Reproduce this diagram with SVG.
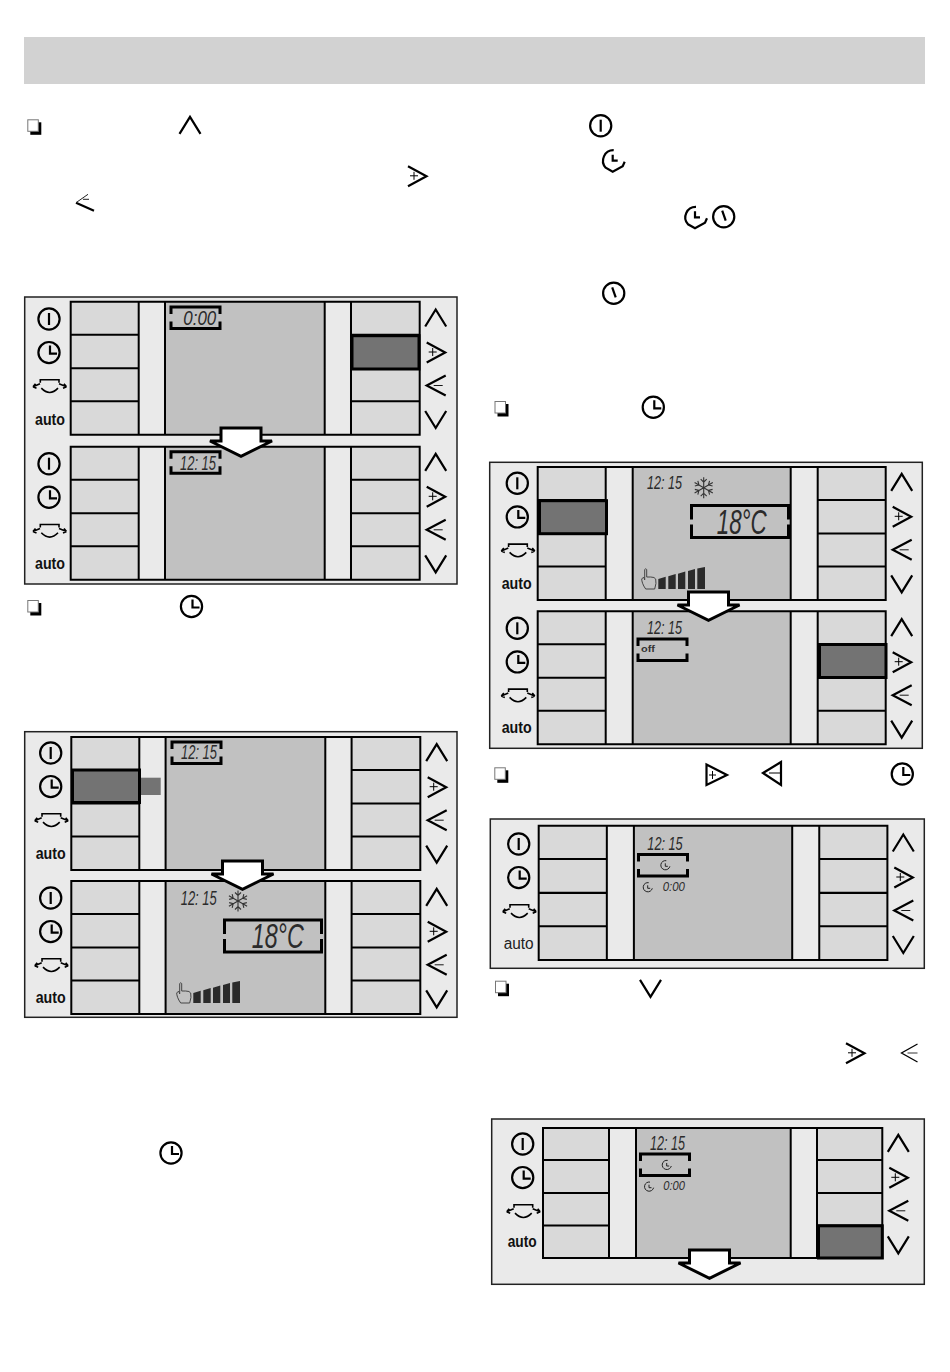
<svg xmlns="http://www.w3.org/2000/svg" width="950" height="1372" viewBox="0 0 950 1372">
<style>
.frame{fill:#eaeaea;stroke:#222;stroke-width:1.5}
.btn{fill:#d9d9d9}.lcd{fill:#c1c1c1}.gap{fill:#eaeaea}
.ln{fill:none;stroke:#000;stroke-width:2}
.hl{fill:#737373;stroke:#000;stroke-width:3}
.ic{fill:none;stroke:#000;stroke-width:2.2;stroke-linejoin:miter}
.thin{fill:none;stroke:#222;stroke-width:1}
.br{fill:none;stroke:#000;stroke-width:3}
.auto{font-family:"Liberation Sans",Arial,sans-serif;font-weight:700;font-size:16px;fill:#111}
.seg{font-family:"Liberation Sans",Arial,sans-serif;font-style:italic;fill:#2b2b2b}
.off{font-family:"Liberation Sans",Arial,sans-serif;font-weight:700;font-size:9.5px;fill:#333}
.ar{fill:#fff;stroke:#000;stroke-width:3;stroke-linejoin:miter}
.bar{fill:#2a2a2a}
.snow{fill:none;stroke:#333;stroke-width:1.1}
.hand{fill:none;stroke:#444;stroke-width:1}
</style>
<defs>
<g id="screen">
<rect class="btn" width="349" height="133"/>
<rect class="gap" x="68" width="26.3" height="133"/>
<rect class="lcd" x="94.3" width="159.7" height="133"/>
<rect class="gap" x="254" width="26.3" height="133"/>
<path class="ln" d="M0 0H349V133H0ZM68 0V133M94.3 0V133M254 0V133M280.3 0V133M0 33H68M0 66.5H68M0 99.5H68M280.3 33H349M280.3 66.5H349M280.3 99.5H349"/>
</g>
<g id="screenB">
<rect class="btn" width="348" height="133"/>
<rect class="gap" x="68" width="27" height="133"/>
<rect class="lcd" x="95" width="158" height="133"/>
<rect class="gap" x="253" width="27" height="133"/>
<path class="ln" d="M0 0H348V133H0ZM68 0V133M95 0V133M253 0V133M280 0V133M0 33H68M0 66.5H68M0 99.5H68M280 33H348M280 66.5H348M280 99.5H348"/>
</g>
<g id="screenC">
<rect class="btn" width="339.3" height="130"/>
<rect class="gap" x="66" width="27" height="130"/>
<rect class="lcd" x="93" width="154.7" height="130"/>
<rect class="gap" x="247.7" width="26.3" height="130"/>
<path class="ln" d="M0 0H339.3V130H0ZM66 0V130M93 0V130M247.7 0V130M274 0V130M0 32H66M0 65H66M0 97.5H66M274 32H339.3M274 65H339.3M274 97.5H339.3"/>
</g>
<g id="power" class="ic"><circle r="10.6"/><path d="M0-6V6"/></g>
<g id="clock" class="ic"><circle r="10.6"/><path d="M1-7V1H8"/></g>
<g id="clockT" class="ic"><circle r="10.6"/><path d="M-1.5-6L2 4"/></g>
<g id="clockP" class="ic"><path d="M0-10.5A10.5 10.5 0 0 0-8 7L-1 11L9 5.5L11 1"/><path d="M-1-6V0H4"/></g>
<g id="swing" class="ic" style="stroke-width:1.6"><path d="M-8.7-3V-6H10V-3M-7.7 2.3Q0.7 11 9 2.3M-9-2L-16 1M-16 1L-13.5-2M-16 1L-12.5 2.5M10-2L17.5 1M17.5 1L15-2M17.5 1L14 2.5"/></g>
<g id="up" class="ic"><path d="M-10.5 8.5L0-8.5L10.5 8.5"/></g>
<g id="down" class="ic"><path d="M-10.5-8.5L0 8.5L10.5-8.5"/></g>
<g id="plus" class="ic"><path d="M-9-10L9.5 0L-9 10"/><path d="M-7-0.5H1M-3-4.5V3.5" style="stroke-width:1"/></g>
<g id="minus" class="ic"><path d="M10-10L-9 0L10 10"/><path d="M-2 0H7" style="stroke-width:.9"/></g>
<g id="leftIcons"><use href="#power"/><use href="#clock" y="33.6"/><use href="#swing" y="66.8"/></g>
<g id="rightIcons"><use href="#up"/><use href="#plus" y="34.5"/><use href="#minus" y="67.5"/><use href="#down" y="101.5"/></g>
<path id="bS" class="br" d="M0 7V0H49V7M0 14.5V21.5H49V14.5"/>
<path id="bL" class="br" d="M0 14V0H97V14M0 19V32H97V19"/>
<g id="check"><rect x="3" y="3" width="11" height="12.5" fill="#000"/><rect x=".5" y=".5" width="10.5" height="11.5" fill="#fff" stroke="#777" stroke-width="1"/></g>
<g id="snow" class="snow"><g id="sp"><path d="M0-10.5V10.5M-3-8.5L0-5.5L3-8.5M-3 8.5L0 5.5L3 8.5"/></g><use href="#sp" transform="rotate(60)"/><use href="#sp" transform="rotate(120)"/></g>
<g id="fan">
<path class="hand" d="M4 21C1 17 0 13 0 11L2 9L3 12V1.5Q4 0 5 1.5V9H9Q13 9 14 11Q15 15 13 21Z"/>
<path class="bar" d="M16.6 21V11L24 8.8V21ZM26.6 21V8.2L34 6V21ZM36.3 21V5.8L43.6 3.6V21ZM46.3 21V3L53.3 1V21ZM55.6 21V.4L63.3-1V21Z"/>
</g>
<path id="mini" class="thin" d="M1-4.6A4.6 4.6 0 1 0 4.6 1M0-2V1H2.5"/>
<polygon id="arrow" class="ar" points="-20,0 20,0 20,13 31,13 0,28.3 -31,13 -20,13"/>
</defs>

<rect id="header" x="24" y="37" width="901" height="47" fill="#d2d2d2"/>

<g id="bullets">
<use href="#check" x="27.3" y="119.3"/><use href="#up" x="190" y="125.3"/>
<use href="#plus" x="417" y="176.3"/>
<path class="ic" d="M76 202.7L94 210.7"/><path class="thin" d="M76 202.7L88 194.3M83 199.3H89"/>
<use href="#check" x="27.3" y="600"/><use href="#clock" x="191.5" y="606.5"/>
<use href="#clock" x="171" y="1153"/>
<use href="#power" x="600.7" y="125.7"/>
<use href="#clockP" x="613.7" y="160.7"/>
<use href="#clockP" x="696" y="217.3"/><use href="#clockT" x="723.7" y="216.7"/>
<use href="#clockT" x="613.7" y="293.3"/>
<use href="#check" x="494.5" y="401"/><use href="#clock" x="653.3" y="407.3"/>
<use href="#check" x="494.3" y="767.3"/>
<g class="ic"><path d="M706.5 764.5L727 775L706.5 785Z"/><path d="M709 775H716M712.5 771V779" style="stroke-width:1"/><path d="M781 762L763 773L781 785Z"/><path d="M769 773H781" style="stroke-width:1"/></g>
<use href="#clock" x="902.3" y="774"/>
<use href="#check" x="495" y="980.7"/><use href="#down" x="650.5" y="988.3"/>
<use href="#plus" x="855" y="1053.3"/>
<g transform="translate(909.5,1053)" class="ic" style="stroke-width:1.3"><path d="M8-9L-8 0L8 9"/><path d="M-2 0H8" style="stroke-width:.8"/></g>
</g>

<g id="panel1">
<rect class="frame" x="24.7" y="297" width="432.3" height="287"/>
<use href="#screen" x="70.7" y="301.7"/><use href="#screen" x="70.7" y="446.7"/>
<rect class="hl" x="352" y="335.7" width="67" height="33.3"/>
<use href="#leftIcons" x="49" y="319"/><use href="#leftIcons" x="49" y="463.7"/>
<use href="#rightIcons" x="435.7" y="318"/><use href="#rightIcons" x="435.7" y="462.3"/>
<text class="auto" x="35" y="424.5" textLength="30" lengthAdjust="spacingAndGlyphs">auto</text>
<text class="auto" x="35" y="568.5" textLength="30" lengthAdjust="spacingAndGlyphs">auto</text>
<use href="#bS" x="171" y="307"/>
<text class="seg" x="183.3" y="325" font-size="21" textLength="33" lengthAdjust="spacingAndGlyphs">0:00</text>
<use href="#bS" x="171" y="451.7"/>
<text class="seg" x="180" y="470" font-size="19.5" textLength="36" lengthAdjust="spacingAndGlyphs">12: 15</text>
</g>

<g id="panel2">
<rect class="frame" x="24.7" y="731.7" width="432.3" height="285.6"/>
<use href="#screen" x="71.3" y="737"/><use href="#screen" x="71.3" y="881"/>
<rect fill="#737373" x="139" y="777.7" width="21.7" height="17.3"/>
<rect class="hl" x="72.5" y="770" width="67" height="32.5"/>
<use href="#leftIcons" x="50.7" y="753"/><use href="#leftIcons" x="50.7" y="898"/>
<use href="#rightIcons" x="436.7" y="752.7"/><use href="#rightIcons" x="436.7" y="897.3"/>
<text class="auto" x="35.7" y="858.5" textLength="30" lengthAdjust="spacingAndGlyphs">auto</text>
<text class="auto" x="35.7" y="1002.7" textLength="30" lengthAdjust="spacingAndGlyphs">auto</text>
<use href="#bS" x="172" y="742"/>
<text class="seg" x="181" y="759" font-size="19.5" textLength="36" lengthAdjust="spacingAndGlyphs">12: 15</text>
<text class="seg" x="180.7" y="905" font-size="19.5" textLength="36" lengthAdjust="spacingAndGlyphs">12: 15</text>
<use href="#snow" x="238" y="901"/>
<use href="#bL" x="224.5" y="920"/>
<text class="seg" x="251.7" y="947.7" font-size="35" textLength="52" lengthAdjust="spacingAndGlyphs">18°C</text>
<use href="#fan" x="176.7" y="982"/>
</g>

<g id="panel3">
<rect class="frame" x="489.7" y="462.3" width="432.6" height="286"/>
<use href="#screenB" x="537.7" y="467"/><use href="#screenB" x="537.7" y="611.2"/>
<rect class="hl" x="539.5" y="500.7" width="67" height="33"/>
<rect class="hl" x="819.5" y="644.5" width="66.5" height="33"/>
<use href="#leftIcons" x="517.3" y="483.3"/><use href="#leftIcons" x="517.3" y="628.3"/>
<use href="#rightIcons" x="901.7" y="482.3"/><use href="#rightIcons" x="901.7" y="627.7"/>
<text class="auto" x="501.7" y="589.3" textLength="30" lengthAdjust="spacingAndGlyphs">auto</text>
<text class="auto" x="501.7" y="733.3" textLength="30" lengthAdjust="spacingAndGlyphs">auto</text>
<text class="seg" x="647" y="488.5" font-size="19" textLength="35" lengthAdjust="spacingAndGlyphs">12: 15</text>
<use href="#snow" x="703.7" y="487.7"/>
<use href="#bL" x="691.5" y="505.5"/>
<text class="seg" x="716.7" y="533.7" font-size="35" textLength="50" lengthAdjust="spacingAndGlyphs">18°C</text>
<use href="#fan" x="641.7" y="568"/>
<text class="seg" x="647" y="633.5" font-size="19" textLength="35" lengthAdjust="spacingAndGlyphs">12: 15</text>
<use href="#bS" x="638" y="639"/>
<text class="off" x="641" y="652.3" textLength="14" lengthAdjust="spacingAndGlyphs">off</text>
</g>

<g id="panel4">
<rect class="frame" x="490.3" y="819" width="434" height="149.3"/>
<use href="#screenB" transform="translate(538.7,825.7) scale(1.002,1.01)"/>
<use href="#leftIcons" x="518.7" y="844"/><use href="#rightIcons" x="903.3" y="843"/>
<text x="503.7" y="949" textLength="30" lengthAdjust="spacingAndGlyphs" font-family="Liberation Sans, sans-serif" font-size="16" fill="#222">auto</text>
<text class="seg" x="647.3" y="849.5" font-size="19" textLength="35.4" lengthAdjust="spacingAndGlyphs">12: 15</text>
<use href="#bS" x="638.5" y="854.5"/>
<use href="#mini" x="665.3" y="865.3"/><use href="#mini" x="647.7" y="887.3"/>
<text class="seg" x="662.7" y="890.7" font-size="13.5" textLength="22.3" lengthAdjust="spacingAndGlyphs">0:00</text>
</g>

<g id="panel5">
<rect class="frame" x="491.7" y="1119" width="432.6" height="165.3"/>
<use href="#screenC" x="543" y="1128"/>
<rect class="hl" x="818.5" y="1225.8" width="63.8" height="32.2"/>
<use href="#leftIcons" x="522.7" y="1144"/><use href="#rightIcons" x="898.3" y="1143.3"/>
<text class="auto" x="507.7" y="1246.7" textLength="29" lengthAdjust="spacingAndGlyphs">auto</text>
<text class="seg" x="650" y="1150" font-size="19.5" textLength="35" lengthAdjust="spacingAndGlyphs">12: 15</text>
<use href="#bS" x="640.5" y="1154"/>
<use href="#mini" x="666.7" y="1165"/><use href="#mini" x="649" y="1186.7"/>
<text class="seg" x="663.3" y="1190" font-size="13" textLength="21.7" lengthAdjust="spacingAndGlyphs">0:00</text>
</g>

<g id="connectors">
<use href="#arrow" x="241" y="428"/>
<use href="#arrow" x="242.5" y="861"/>
<use href="#arrow" x="708.5" y="592"/>
<use href="#arrow" x="709.5" y="1250"/>
</g>
</svg>
